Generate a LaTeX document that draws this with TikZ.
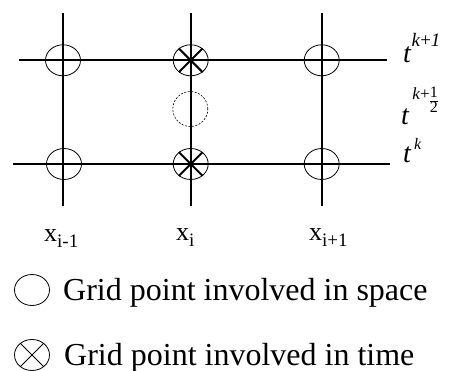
\documentclass[tikz,border=0pt]{standalone}
\usepackage{fontspec}
\setmainfont{Liberation Serif}
\usetikzlibrary{shapes.geometric}

\begin{document}
\begin{tikzpicture}[
        x=1pt, y=-1pt,
        gridline/.style={line width=1.6pt},
        spacept/.style={draw, ellipse, line width=0.8pt, minimum width=35pt,
                        minimum height=31pt, inner sep=0pt},
        halfpt/.style={draw, circle, dash pattern=on 2pt off 1.5pt,
                       line width=0.6pt, minimum size=35pt, inner sep=0pt},
        crossarm/.style={line width=2pt},
        tlabel/.style={anchor=base west, inner sep=0pt, font=\fontsize{28}{28}\selectfont},
        xlabel/.style={anchor=base west, inner sep=0pt, font=\fontsize{26}{26}\selectfont},
        legend/.style={anchor=base west, inner sep=0pt, font=\fontsize{32}{32}\selectfont},
    ]
        \useasboundingbox (0,0) rectangle (450,371);

        % grid lines
        \foreach \n/\x in {a/62.7, b/190.7, c/321.7} {
            \coordinate (\n top) at (\x,12.7);
            \coordinate (\n bot) at (\x,206);
            \draw[gridline] (\n top) -- (\n bot);
        }
        \coordinate (k1 left)  at (19.3,60.3);
        \coordinate (k1 right) at (387.3,60.3);
        \coordinate (k0 left)  at (13.3,164);
        \coordinate (k0 right) at (390,164);
        \draw[gridline] (k1 left) -- (k1 right);
        \draw[gridline] (k0 left) -- (k0 right);

        % grid points
        \node[spacept] (a1) at (63,60.3) {};
        \node[spacept] (b1) at (190.7,60.3) {};
        \node[spacept] (c1) at (321.7,60.3) {};
        \node[spacept] (a0) at (64,164) {};
        \node[spacept] (b0) at (190.7,164) {};
        \node[spacept] (c0) at (321.7,164) {};
        \node[halfpt]  (bh) at (190.3,109) {};
        \foreach \p in {b1, b0} {
            \draw[crossarm] (\p.45) -- (\p.225);
            \draw[crossarm] (\p.135) -- (\p.315);
        }

        % time labels
        \node[tlabel] (tk1) at (403,63)
            {\textit{t}\raisebox{16pt}{\fontsize{19}{19}\selectfont\textit{k}+\textit{1}}};
        \node[tlabel] (tkh) at (401,125)
            {\textit{t}\raisebox{25pt}{\fontsize{17}{17}\selectfont\,\textit{k}+}%
             \raisebox{19pt}{\fontsize{16}{16}\selectfont\renewcommand\arraystretch{0.75}%
                \begin{tabular}{@{}c@{}}1\\\hline 2\end{tabular}}};
        \node[tlabel] (tk0) at (403,163)
            {\textit{t}\raisebox{13pt}{\fontsize{16}{16}\selectfont\,\textit{k}}};

        % space labels
        \node[xlabel] (xa) at (44,242)
            {x\raisebox{-6pt}{\fontsize{19}{19}\selectfont i-1}};
        \node[xlabel] (xb) at (176,241)
            {x\raisebox{-6pt}{\fontsize{19}{19}\selectfont i}};
        \node[xlabel] (xc) at (309,241)
            {x\raisebox{-6pt}{\fontsize{19}{19}\selectfont i+1}};

        % legend
        \node[spacept] (ls) at (32,290) {};
        \node[legend] (lst) at (63,301) {Grid point involved in space};
        \node[spacept] (lt) at (32,355) {};
        \draw[line width=0.8pt] (lt.45) -- (lt.225);
        \draw[line width=0.8pt] (lt.135) -- (lt.315);
        \node[legend] (ltt) at (64,366) {Grid point involved in time};
    \end{tikzpicture}
\end{document}
